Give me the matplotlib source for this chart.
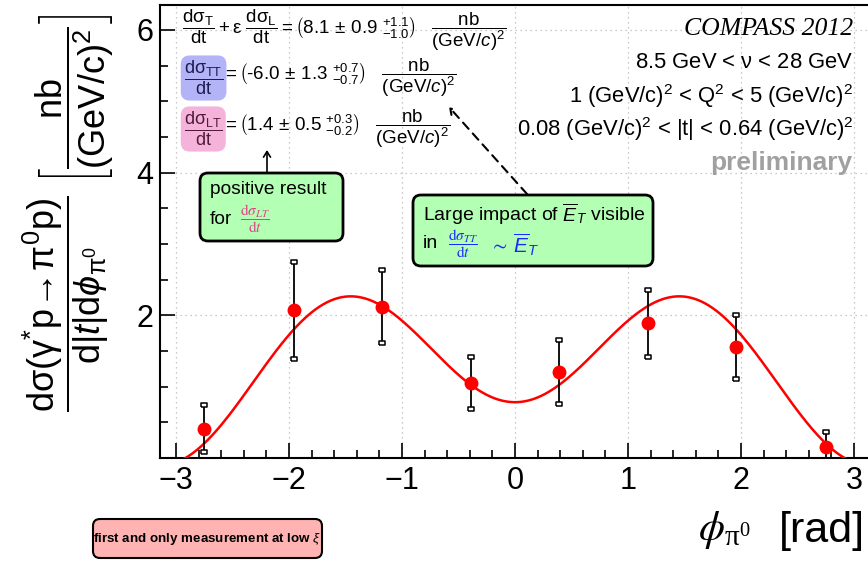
import numpy as np
import matplotlib
matplotlib.use("Agg")
import matplotlib.pyplot as plt
from matplotlib.patches import FancyBboxPatch, FancyArrowPatch
from matplotlib.ticker import MultipleLocator, FixedLocator
from matplotlib.transforms import Affine2D

plt.rcParams['font.family'] = ['Liberation Sans', 'DejaVu Sans']
plt.rcParams['mathtext.fontset'] = 'custom'
plt.rcParams['mathtext.rm'] = 'Liberation Sans'
plt.rcParams['mathtext.it'] = 'Liberation Sans:italic'
plt.rcParams['mathtext.bf'] = 'Liberation Sans:bold'
plt.rcParams['mathtext.sf'] = 'Liberation Sans'
plt.rcParams['mathtext.default'] = 'regular'

# --- measured cross section per phi bin ---
phi_centres = [-2.75, -1.96, -1.18, -0.39, 0.39, 1.18, 1.96, 2.75]
xsec = [0.41, 2.07, 2.12, 1.05, 1.21, 1.89, 1.56, 0.16]
xsec_err = [0.33, 0.68, 0.51, 0.37, 0.45, 0.47, 0.45, 0.20]

# --- fitted structure functions (nb/(GeV/c)^2) ---
sigma_T_epsL = 8.1
sigma_TT = -6.0
sigma_LT = 1.4
epsilon = 0.996

x_ticks = [-3, -2, -1, 0, 1, 2, 3]
y_ticks = [2, 4, 6]

W, H = 868, 562
fig = plt.figure(figsize=(W / 100, H / 100), dpi=100)
# pixel coordinates measured from the top-left corner of the canvas
P = Affine2D().scale(1 / W, -1 / H).translate(0, 1) + fig.transFigure

ax = fig.add_axes([160 / W, 1 - 458 / H, (870 - 160) / W, (458 - 5) / H])

phi = np.linspace(-np.pi, np.pi, 600)
model = (sigma_T_epsL + epsilon * sigma_TT * np.cos(2 * phi)
         + np.sqrt(2 * epsilon * (1 + epsilon)) * sigma_LT * np.cos(phi)) / (2 * np.pi)
ax.plot(phi, model, color='#ff0000', lw=1.8, zorder=3)

lo = np.array(xsec) - np.array(xsec_err)
hi = np.array(xsec) + np.array(xsec_err)
ax.errorbar(phi_centres, xsec, yerr=xsec_err, fmt='none', ecolor='black',
            elinewidth=1.3, capsize=0, zorder=4)
cap = [(-1.5, -1), (1.5, -1), (1.5, 1), (-1.5, 1), (-1.5, -1)]
for ends in (lo, hi):
    ax.plot(phi_centres, ends, ls='none', marker=cap, ms=5, mfc='white',
            mec='black', mew=1.1, zorder=5, clip_on=True)
ax.plot(phi_centres, xsec, ls='none', marker='o', ms=9, color='#ff0000',
        zorder=6)

ax.set_xlim(-np.pi, np.pi)
ax.set_ylim(0, 6.35)
ax.xaxis.set_major_locator(FixedLocator(x_ticks))
ax.xaxis.set_minor_locator(MultipleLocator(0.2))
ax.yaxis.set_major_locator(FixedLocator(y_ticks))
ax.yaxis.set_minor_locator(MultipleLocator(0.5))
ax.tick_params(which='both', direction='in', top=False, right=False,
               labelsize=22, width=1.2, colors='black')
ax.tick_params(which='major', length=11)
ax.tick_params(which='minor', length=5.5)
ax.tick_params(axis='x', pad=6)
ax.tick_params(axis='y', pad=5)
ax.grid(True, which='major', ls=(0, (1, 3)), color='#b8b8b8', lw=0.9)
for s in ax.spines.values():
    s.set_linewidth(1.5)

# y axis title
fig.text(68, 213,
         r'$\dfrac{d\sigma(\gamma^{*}p\!\rightarrow\!\pi^{0}p)}{d|\mathit{t}|d\mathit{\phi}_{\pi^{0}}}'
         r'\ \left[\dfrac{nb}{(GeV/c)^{2}}\right]$',
         transform=P, rotation=90, ha='center', va='center', fontsize=26)

# x axis title
fig.text(750, 530, r'$\mathit{\phi}_{\pi^{0}}$', transform=P, ha='right',
         va='center', fontsize=30, math_fontfamily='stix',
         family='Liberation Serif')
fig.text(865, 531, '[rad]', transform=P, ha='right', va='center', fontsize=31)

# fit results
fig.text(182, 30,
         r'$\dfrac{d\sigma_{T}}{dt} + \varepsilon\ \dfrac{d\sigma_{L}}{dt} = '
         r'\left(8.1 \,\pm\, 0.9\ {}^{+1.1}_{-1.0}\right)\ \ \ \dfrac{nb}{(GeV/\mathit{c})^{2}}$',
         transform=P, ha='left', va='center', fontsize=13.5)
fig.text(184, 78, r'$\dfrac{d\sigma_{TT}}{dt}$', transform=P, ha='left',
         va='center', fontsize=13, color='#1c1c50',
         bbox=dict(boxstyle='round,pad=0.18,rounding_size=0.5', fc='#b3b3f7', ec='none'))
fig.text(222, 78,
         r'$= \left(\text{-}6.0 \,\pm\, 1.3\ {}^{+0.7}_{-0.7}\right)\ \ \ \dfrac{nb}{(GeV/\mathit{c})^{2}}$',
         transform=P, ha='left', va='center', fontsize=13.5)
fig.text(184, 129, r'$\dfrac{d\sigma_{LT}}{dt}$', transform=P, ha='left',
         va='center', fontsize=13, color='#501c38',
         bbox=dict(boxstyle='round,pad=0.18,rounding_size=0.5', fc='#f5b3dc', ec='none'))
fig.text(222, 129,
         r'$= \left(1.4 \,\pm\, 0.5\ {}^{+0.3}_{-0.2}\right)\ \ \ \dfrac{nb}{(GeV/\mathit{c})^{2}}$',
         transform=P, ha='left', va='center', fontsize=13.5)

# kinematic range
fig.text(853, 29, 'COMPASS 2012', transform=P, ha='right', va='center',
         fontsize=18.5, family='Liberation Serif', style='italic')
fig.text(853, 62, r'8.5 GeV < $\nu$ < 28 GeV', transform=P, ha='right',
         va='center', fontsize=15.8)
fig.text(853, 96, r'1 (GeV/c)$^{2}$ < Q$^{2}$ < 5 (GeV/c)$^{2}$', transform=P,
         ha='right', va='center', fontsize=15.8)
fig.text(853, 129, r'0.08 (GeV/c)$^{2}$ < |t| < 0.64 (GeV/c)$^{2}$', transform=P,
         ha='right', va='center', fontsize=15.8)
fig.text(852, 163, 'preliminary', transform=P, ha='right', va='center',
         fontsize=19, weight='bold', color='#a0a0a0')


def box(x0, y0, x1, y1, fc, lw=2.0, r=8):
    patch = FancyBboxPatch((x0, y0), x1 - x0, y1 - y0,
                           boxstyle=f'round,pad=0,rounding_size={r}',
                           fc=fc, ec='black', lw=lw, transform=P, zorder=10)
    fig.add_artist(patch)


# annotation: LT
box(200, 173, 343, 241, '#b3ffb3')
fig.text(210, 190, 'positive result', transform=P, ha='left', va='center',
         fontsize=13.8, zorder=11)
fig.text(210, 220, 'for', transform=P, ha='left', va='center', fontsize=13.8,
         zorder=11)
fig.text(240, 219, r'$\dfrac{\mathrm{d}\mathit{\sigma}_{\mathit{LT}}}{\mathrm{d}\mathit{t}}$',
         transform=P, ha='left', va='center', fontsize=11, color='#e2428e',
         math_fontfamily='stix', family='Liberation Serif', zorder=11)
fig.add_artist(FancyArrowPatch((267, 173), (267, 150), transform=P,
                               arrowstyle='->,head_length=4,head_width=2.5',
                               lw=1.2, color='black', shrinkA=0, shrinkB=0))

# annotation: TT
box(413, 195, 653, 266, '#b3ffb3')
fig.text(423, 214, r'Large impact of $\overline{\mathit{E}}_{\mathit{T}}$ visible',
         transform=P, ha='left', va='center', fontsize=14, zorder=11)
fig.text(423, 244, 'in', transform=P, ha='left', va='center', fontsize=14,
         zorder=11)
fig.text(448, 244, r'$\dfrac{\mathrm{d}\mathit{\sigma}_{\mathit{TT}}}{\mathrm{d}\mathit{t}}$',
         transform=P, ha='left', va='center', fontsize=11, color='#1a2aff',
         math_fontfamily='stix', family='Liberation Serif', zorder=11)
fig.text(489, 245, r'$\sim\,\overline{\mathit{E}}_{\mathit{T}}$', transform=P,
         ha='left', va='center', fontsize=15, color='#1a2aff', zorder=11)
fig.add_artist(FancyArrowPatch((527, 194), (449, 107), transform=P,
                               arrowstyle='->,head_length=4,head_width=2.5',
                               lw=1.5, ls=(0, (4, 3)), color='black',
                               shrinkA=0, shrinkB=0))

# bottom remark
box(93, 519, 322, 558, '#ffb3b3', lw=1.5, r=7)
fig.text(207, 539, r'first and only measurement at low $\mathit{\xi}$', transform=P,
         ha='center', va='center', fontsize=9.6, weight='bold', zorder=11)

fig.savefig('out.png', dpi=100)
